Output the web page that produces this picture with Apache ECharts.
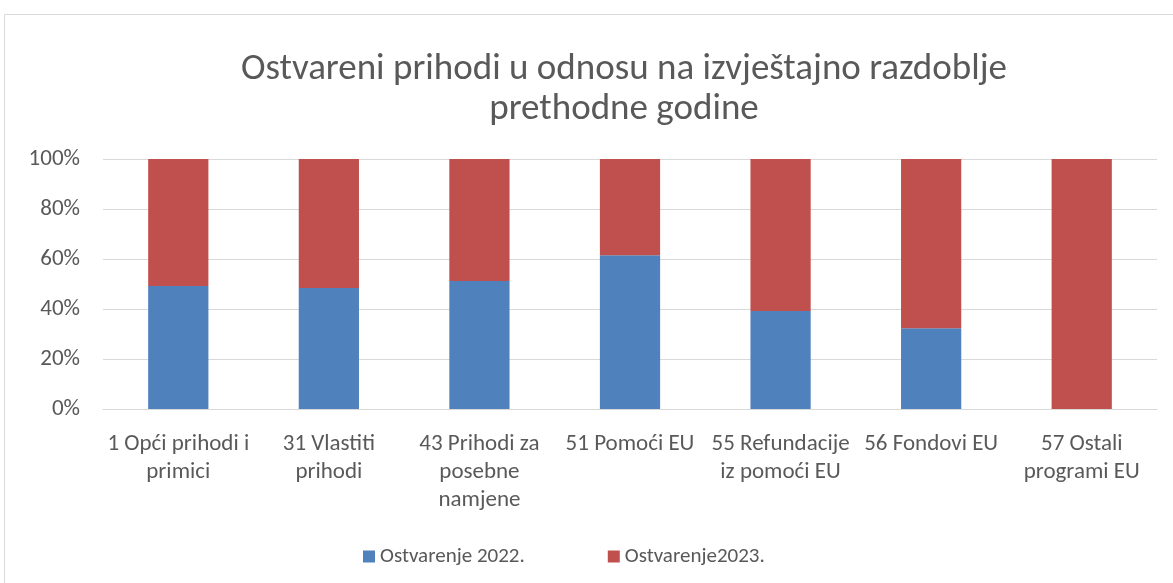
<!DOCTYPE html>
<html>
<head>
<meta charset="utf-8">
<script src="https://cdn.jsdelivr.net/npm/echarts@6/dist/echarts.min.js"></script>
<style>
html,body{margin:0;padding:0;background:#fff;}
#c{width:1173px;height:583px;}
</style>
</head>
<body>
<div id="c"></div>
<script>
const categories = [
  "1 Opći prihodi i\nprimici",
  "31 Vlastiti\nprihodi",
  "43 Prihodi za\nposebne\nnamjene",
  "51 Pomoći EU",
  "55 Refundacije\niz pomoći EU",
  "56 Fondovi EU",
  "57 Ostali\nprogrami EU"
];
const series2022 = [49.2, 48.4, 51.2, 61.5, 39.2, 32.3, 0];
const series2023 = [50.8, 51.6, 48.8, 38.5, 60.8, 67.7, 100];
const yTicks = [0, 20, 40, 60, 80, 100];
const seriesNames = ["Ostvarenje 2022.", "Ostvarenje2023."];

const FONT = 'Carlito, Calibri, "Open Sans", "Noto Sans", sans-serif';
const chart = echarts.init(document.getElementById('c'));
chart.setOption({
  backgroundColor: '#fff',
  animation: false,
  textStyle: { fontFamily: FONT, color: '#595959' },
  title: {
    text: 'Ostvareni prihodi u odnosu na izvještajno razdoblje\nprethodne godine',
    left: 619,
    textAlign: 'center',
    top: 45,
    textStyle: { fontFamily: FONT, fontSize: 37, fontWeight: 'normal', color: '#595959', lineHeight: 40, align: 'center' }
  },
  graphic: [{
    type: 'rect',
    shape: { x: 4.5, y: 14.5, width: 1200, height: 600 },
    style: { fill: 'none', stroke: '#d9d9d9', lineWidth: 1 },
    silent: true
  }],
  legend: {
    top: 541,
    left: 358,
    itemWidth: 12,
    itemHeight: 12,
    itemGap: 83,
    icon: 'rect',
    textStyle: { fontFamily: FONT, fontSize: 21, color: '#595959' },
    data: seriesNames
  },
  grid: { left: 103, right: 16, top: 159, bottom: 174 },
  xAxis: {
    type: 'category',
    data: categories,
    axisLine: { show: true, lineStyle: { color: '#d9d9d9', width: 1 } },
    axisTick: { show: false },
    axisLabel: { fontFamily: FONT, fontSize: 23, color: '#595959', lineHeight: 28, margin: 21, interval: 0 }
  },
  yAxis: {
    type: 'value',
    min: 0, max: 100, interval: 20,
    axisLine: { show: false },
    axisTick: { show: false },
    splitLine: { lineStyle: { color: '#d9d9d9', width: 1 } },
    axisLabel: {
      fontFamily: FONT, fontSize: 23, color: '#595959', margin: 23,
      formatter: v => (yTicks.includes(v) ? v + '%' : '')
    }
  },
  series: [
    {
      name: seriesNames[0], type: 'bar', stack: 'a', data: series2022,
      barCategoryGap: '60%',
      itemStyle: { color: '#4F81BD' }
    },
    {
      name: seriesNames[1], type: 'bar', stack: 'a', data: series2023,
      barCategoryGap: '60%',
      itemStyle: { color: '#C0504D' }
    }
  ]
});
</script>
</body>
</html>
